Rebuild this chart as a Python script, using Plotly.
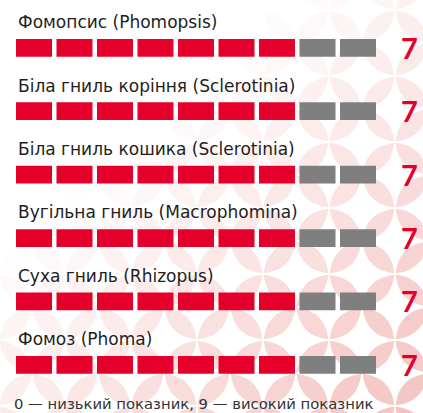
import math
import plotly.graph_objects as go

# --- data -------------------------------------------------------------
diseases = [
    "Фомопсис (Phomopsis)",
    "Біла гниль коріння (Sclerotinia)",
    "Біла гниль кошика (Sclerotinia)",
    "Вугільна гниль (Macrophomina)",
    "Суха гниль (Rhizopus)",
    "Фомоз (Phoma)",
]
scores = [7, 7, 7, 7, 7, 7]
scale_max = 9
footnote = "0 — низький показник, 9 — високий показник"

# --- style ------------------------------------------------------------
W, H = 423, 413
RED = "#E4002B"
GREY = "#7F7F7F"
TEXT = "#1E1E1E"
FONT = "DejaVu Sans"
gap = 0.111          # gap between segments, in score units
bar_thick = 0.28     # segment thickness, in row units

# axis windows chosen so one score unit / one row map to fixed pixel pitches
x_range = [-0.3395, 10.105]
y_range = [5.7595, -0.7547]

fig = go.Figure()

red_x, red_y, red_b = [], [], []
grey_x, grey_y, grey_b = [], [], []
for r, s in enumerate(scores):
    for i in range(scale_max):
        if i < s:
            red_x.append(1 - gap); red_y.append(r); red_b.append(i + gap / 2)
        else:
            grey_x.append(1 - gap); grey_y.append(r); grey_b.append(i + gap / 2)

fig.add_trace(go.Bar(x=red_x, y=red_y, base=red_b, orientation="h",
                     width=bar_thick, marker=dict(color=RED, line_width=0),
                     hoverinfo="skip", showlegend=False))
fig.add_trace(go.Bar(x=grey_x, y=grey_y, base=grey_b, orientation="h",
                     width=bar_thick, marker=dict(color=GREY, line_width=0),
                     hoverinfo="skip", showlegend=False))

annotations = []
for r, (name, s) in enumerate(zip(diseases, scores)):
    annotations.append(dict(x=gap / 2, y=r - 0.405, xref="x", yref="y",
                            text=name, showarrow=False, xanchor="left",
                            yanchor="middle",
                            font=dict(family=FONT, size=17, color=TEXT)))
    annotations.append(dict(x=9.77, y=r - 0.01, xref="x", yref="y",
                            text=f"<b>{s}</b>", showarrow=False,
                            xanchor="center", yanchor="middle",
                            font=dict(family="Lato", size=29, color=RED)))
annotations.append(dict(x=0.0, y=0.0, xref="paper", yref="paper",
                        xshift=12, yshift=-1,
                        text=footnote, showarrow=False, xanchor="left",
                        yanchor="bottom",
                        font=dict(family=FONT, size=14.8, color="#333333")))

# --- decorative petal lattice in the background -----------------------
shapes = []
step = 33.0          # half-diagonal of the lattice cell, px
plen = 0.96          # petal length as share of the node-to-node distance
half_w = 9.0         # petal half width, px
hx, hy = 362.0, 340.0  # centre of one white gap between petals

def px_to_paper(px, py):
    return px / W, 1 - py / H

for a in range(-16, 17):
    for b in range(-16, 17):
        if (a + b) % 2 == 0:
            continue
        nx, ny = hx + a * step, hy + b * step
        for dx, dy in ((1, 1), (1, -1)):
            ex, ey = nx + dx * step, ny + dy * step
            cx, cy = (nx + ex) / 2, (ny + ey) / 2
            if not (-40 < cx < W + 40 and -40 < cy < H + 40):
                continue
            t = 0.7 * cx / W + 0.75 * cy / H - 0.45
            alpha = 0.42 * max(0.0, min(1.0, t))
            if alpha < 0.01:
                continue
            L = math.hypot(ex - nx, ey - ny)
            ux, uy = (ex - nx) / L, (ey - ny) / L
            vx, vy = -uy, ux
            hl = L * plen / 2
            p1 = (cx - ux * hl, cy - uy * hl)
            p2 = (cx + ux * hl, cy + uy * hl)
            c1 = (cx + vx * 2 * half_w, cy + vy * 2 * half_w)
            c2 = (cx - vx * 2 * half_w, cy - vy * 2 * half_w)
            P1, P2 = px_to_paper(*p1), px_to_paper(*p2)
            C1, C2 = px_to_paper(*c1), px_to_paper(*c2)
            path = (f"M {P1[0]:.5f},{P1[1]:.5f} Q {C1[0]:.5f},{C1[1]:.5f} "
                    f"{P2[0]:.5f},{P2[1]:.5f} Q {C2[0]:.5f},{C2[1]:.5f} "
                    f"{P1[0]:.5f},{P1[1]:.5f} Z")
            shapes.append(dict(type="path", path=path, xref="paper",
                               yref="paper", layer="below", line_width=0,
                               fillcolor=f"rgba(228,110,105,{alpha:.3f})"))

fig.update_layout(
    width=W, height=H,
    margin=dict(l=0, r=0, t=0, b=0),
    paper_bgcolor="white",
    plot_bgcolor="rgba(0,0,0,0)",
    barmode="overlay",
    xaxis=dict(range=x_range, visible=False, fixedrange=True),
    yaxis=dict(range=y_range, visible=False, fixedrange=True),
    annotations=annotations,
    shapes=shapes,
)

fig.write_html("out.html", config={"displayModeBar": False})
